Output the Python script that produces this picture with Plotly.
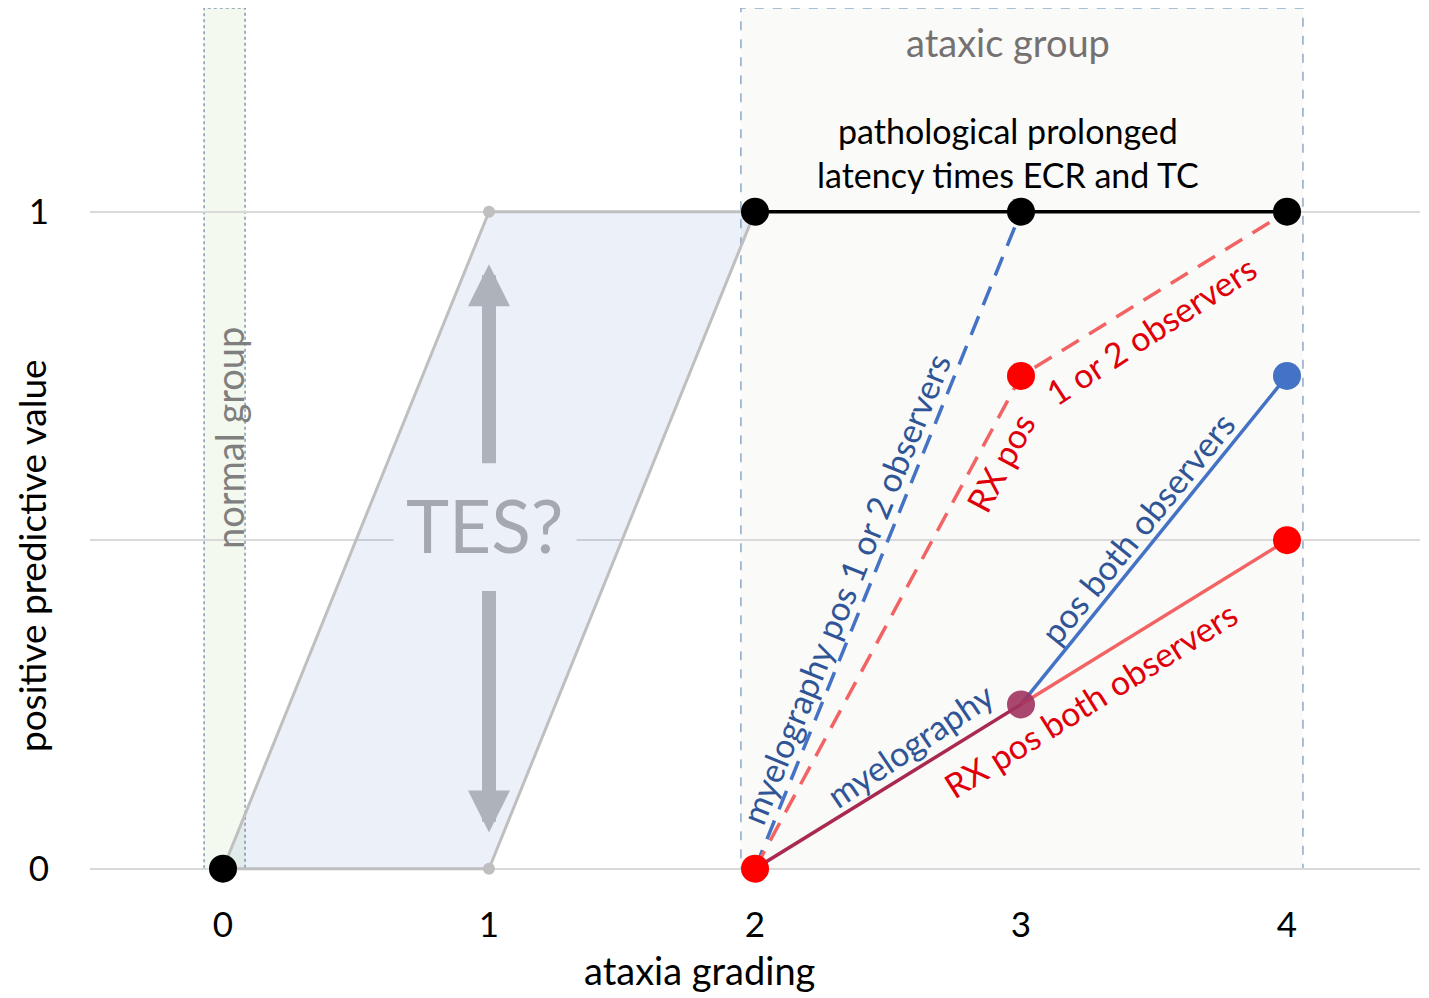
"""PPV versus ataxia grading - recreated with Plotly"""
import plotly.graph_objects as go

# ---- data -----------------------------------------------------------------
grade_ticks = [0, 1, 2, 3, 4]
ppv_ticks = [0, 0.5, 1]
ppv_ticktext = ["0", "", "1"]

# TES? zone (parallelogram between normal and ataxic group)
tes_x = [0, 1, 2, 1, 0]
tes_y = [0, 1, 1, 0, 0]
tes_corner_x = [1, 1]
tes_corner_y = [1, 0]

normal_x = [0]
normal_y = [0]

latency_x = [2, 3, 4]
latency_y = [1, 1, 1]

myelo_any_x = [2, 3]
myelo_any_y = [0, 1]

rx_any_x = [2, 3, 4]
rx_any_y = [0, 0.75, 1]

shared_x = [2, 3]
shared_y = [0, 0.25]

myelo_both_x = [3, 4]
myelo_both_y = [0.25, 0.75]

rx_both_x = [3, 4]
rx_both_y = [0.25, 0.5]

FONT = "Lato"
BLUE = "#4472C4"
BLUE_TXT = "#2F5597"
RED = "#FF0000"
RED_LINE = "#F26464"
RED_TXT = "#E0000B"
MAROON = "#A9294F"
GREY_LINE = "#BFBFBF"
DASH = "20px,12px"

fig = go.Figure()

# group boxes (background)
fig.add_shape(type="rect", x0=1.947, x1=4.06, y0=0, y1=1.31, layer="below",
              fillcolor="#FAFAF8", line=dict(color="#8EA9C8", width=1.5, dash="dash"))
fig.add_shape(type="rect", x0=-0.071, x1=0.083, y0=0, y1=1.31, layer="below",
              fillcolor="#F3F9EF", line=dict(color="#8497B0", width=1.5, dash="dot"))

# TES zone (translucent so the grid lines stay visible)
fig.add_trace(go.Scatter(x=tes_x, y=tes_y, mode="lines", fill="toself",
                         fillcolor="rgba(68,114,196,0.1)",
                         line=dict(color=GREY_LINE, width=3),
                         hoverinfo="skip"))
fig.add_trace(go.Scatter(x=tes_corner_x, y=tes_corner_y, mode="markers",
                         marker=dict(color=GREY_LINE, size=12)))

# lines
fig.add_trace(go.Scatter(x=myelo_any_x, y=myelo_any_y, mode="lines",
                         line=dict(color=BLUE, width=3.5, dash=DASH)))
fig.add_trace(go.Scatter(x=rx_any_x, y=rx_any_y, mode="lines",
                         line=dict(color=RED_LINE, width=3.5, dash=DASH)))
fig.add_trace(go.Scatter(x=myelo_both_x, y=myelo_both_y, mode="lines",
                         line=dict(color=BLUE, width=3.5)))
fig.add_trace(go.Scatter(x=rx_both_x, y=rx_both_y, mode="lines",
                         line=dict(color=RED_LINE, width=3.5)))
fig.add_trace(go.Scatter(x=shared_x, y=shared_y, mode="lines",
                         line=dict(color=MAROON, width=3.5)))
fig.add_trace(go.Scatter(x=latency_x, y=latency_y, mode="lines+markers",
                         line=dict(color="black", width=3.5),
                         marker=dict(color="black", size=28)))

# markers
fig.add_trace(go.Scatter(x=normal_x, y=normal_y, mode="markers",
                         marker=dict(color="black", size=28)))
fig.add_trace(go.Scatter(x=[rx_any_x[0], rx_any_x[1]], y=[rx_any_y[0], rx_any_y[1]],
                         mode="markers", marker=dict(color=RED, size=28)))
fig.add_trace(go.Scatter(x=[rx_both_x[-1]], y=[rx_both_y[-1]], mode="markers",
                         marker=dict(color=RED, size=28)))
fig.add_trace(go.Scatter(x=[myelo_both_x[-1]], y=[myelo_both_y[-1]], mode="markers",
                         marker=dict(color=BLUE, size=28)))
fig.add_trace(go.Scatter(x=[shared_x[-1]], y=[shared_y[-1]], mode="markers",
                         marker=dict(color="#A0335E", size=28, opacity=0.9)))

# arrows in TES zone
arrow = dict(showarrow=True, text="", axref="x", ayref="y", xref="x", yref="y",
             arrowhead=2, arrowwidth=14, arrowsize=0.6, arrowcolor="#ADB2BB")
fig.add_annotation(x=1, y=0.92, ax=1, ay=0.615, **arrow)
fig.add_annotation(x=1, y=0.055, ax=1, ay=0.425, **arrow)


def label(text, x, y, angle=0, color="black", size=33, ref="x", **kw):
    fig.add_annotation(x=x, y=y, text=text, showarrow=False, textangle=angle,
                       xref=ref, yref=ref.replace("x", "y"),
                       xanchor="center", yanchor="middle",
                       font=dict(family=FONT, size=size, color=color), **kw)


label("TES?", 0.985, 0.523, size=73, color="#A5A8AF", bgcolor="#ECF1F9", borderpad=12)

label("normal group", 0.025, 0.655, angle=-90, color="#7F7F7F", size=38)
label("ataxic group", 2.95, 1.258, color="#767171", size=38)
label("pathological prolonged<br>latency times ECR and TC", 2.95, 1.09, size=34)

label("myelography pos 1 or 2 observers", 2.338, 0.427, angle=-68, color=BLUE_TXT, size=34)
label("RX pos", 2.92, 0.619, angle=-62, color=RED_TXT, size=34)
label("1 or 2 observers", 3.49, 0.82, angle=-33, color=RED_TXT, size=34)
label("pos both observers", 3.436, 0.52, angle=-51, color=BLUE_TXT, size=34)
label("myelography", 2.583, 0.189, angle=-34, color=BLUE_TXT, size=34)
label("RX pos both observers", 3.26, 0.257, angle=-32, color=RED_TXT, size=34)

# axis titles (paper coordinates)
label("positive predictive value", -0.0445, 0.383, angle=-90, size=37, ref="paper")
label("ataxia grading", 0.4586, -0.0846, size=38, ref="paper")

# page body has an 8px margin, so the figure is 8px smaller than the window
fig.update_layout(
    width=1421, height=990,
    margin=dict(l=82, r=9, t=0, b=103),
    plot_bgcolor="white", paper_bgcolor="white",
    showlegend=False,
    font=dict(family=FONT, size=35, color="black"),
    xaxis=dict(range=[-0.5, 4.5], tickvals=grade_ticks, showgrid=False,
               zeroline=False, showline=False, ticks="",
               tickfont=dict(size=35), ticklabelstandoff=6),
    yaxis=dict(range=[-0.04, 1.31], tickvals=ppv_ticks, ticktext=ppv_ticktext,
               showgrid=True, gridcolor="#D9D9D9", gridwidth=1.5,
               zeroline=False, showline=False, ticks="",
               tickfont=dict(size=35), ticklabelstandoff=40),
)

fig.write_html("out.html")
